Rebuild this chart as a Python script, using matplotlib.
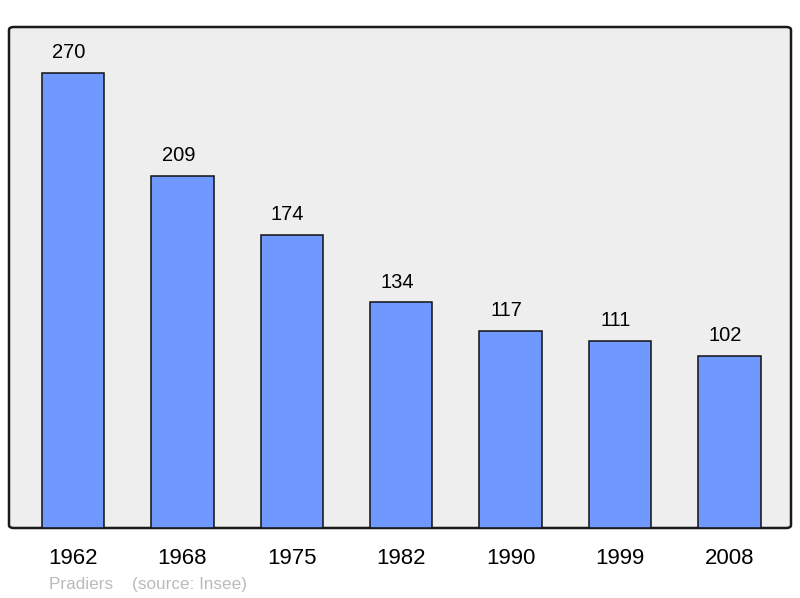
import matplotlib
matplotlib.use("Agg")
import matplotlib.pyplot as plt
from matplotlib.patches import FancyBboxPatch

years = ["1962", "1968", "1975", "1982", "1990", "1999", "2008"]
population = [270, 209, 174, 134, 117, 111, 102]

plt.rcParams['font.family'] = ['Liberation Sans', 'DejaVu Sans']

fig = plt.figure(figsize=(8, 5.98), dpi=100)
W, H = 800, 598
left, right, top, bottom = 9, 791, 27, 528
ax = fig.add_axes([left / W, 1 - bottom / H, (right - left) / W, (bottom - top) / H])
ax.set_facecolor('none')
for s in ax.spines.values():
    s.set_visible(False)

bg = FancyBboxPatch((0, 0), 1, 1, boxstyle="round,pad=0,rounding_size=0.006",
                    transform=ax.transAxes, facecolor='#eeeeee', edgecolor='#1a1a1a',
                    linewidth=1.8, zorder=0, clip_on=False)
ax.add_patch(bg)

x = list(range(len(years)))
ax.bar(x, population, width=0.57, color='#7099ff', edgecolor='#111111', linewidth=1.1, zorder=2)
for xi, v in zip(x, population):
    ax.annotate(str(v), (xi, v), xytext=(-3, 14.5), textcoords='offset points',
                ha='center', va='center', fontsize=14.5, color='#000000')

ax.set_xlim(-0.585, 6.562)
ax.set_ylim(0, 297.3)
ax.set_yticks([])
ax.set_xticks(x)
ax.set_xticklabels(years, fontsize=16)
ax.tick_params(axis='x', length=0, pad=14.5)

fig.text(49 / W, 1 - 584 / H, "Pradiers    (source: Insee)", fontsize=12.3, color='#bbbbbb',
         ha='left', va='center')

fig.savefig("out.png", dpi=100)
